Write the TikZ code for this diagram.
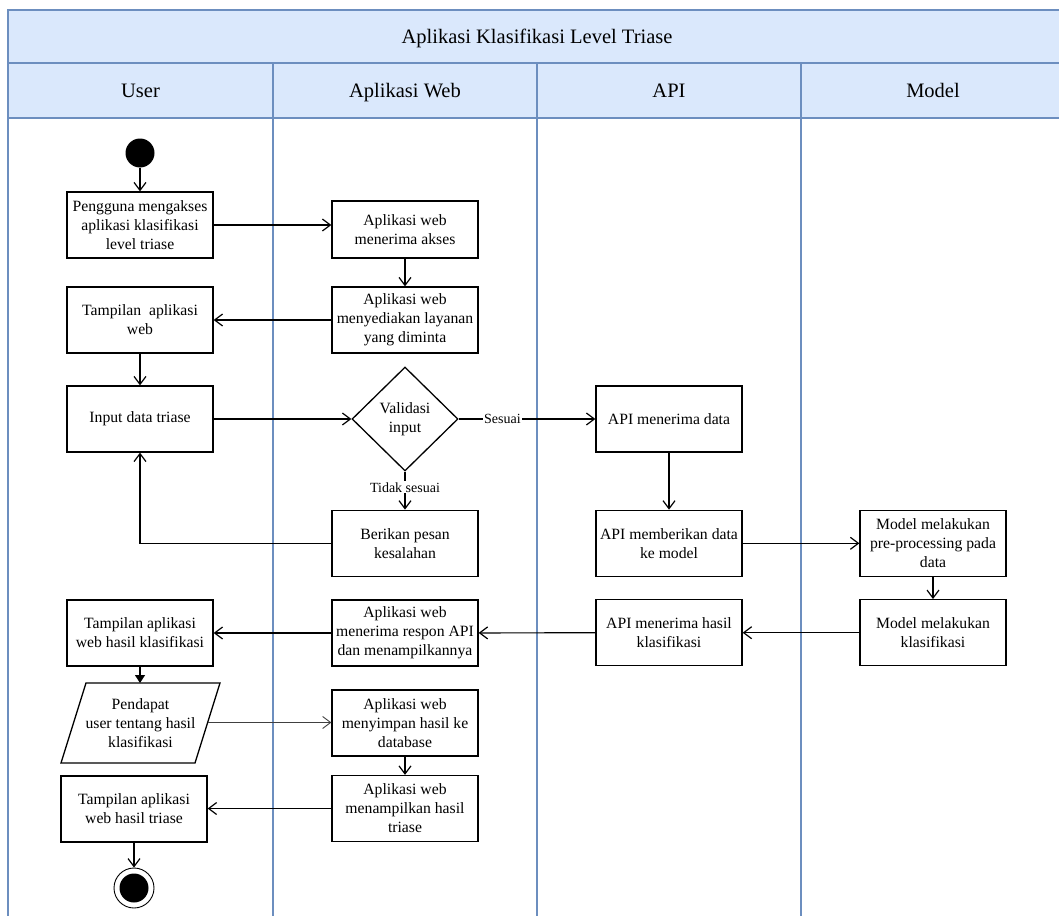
\documentclass[tikz,border=0pt]{standalone}
\usepackage{fontspec}
\setmainfont{Liberation Serif}
\usetikzlibrary{arrows.meta,shapes.geometric,calc}
\definecolor{hdrfill}{HTML}{DAE8FC}
\definecolor{hdrline}{HTML}{6C8EBF}
\begin{document}
\begin{tikzpicture}[x=1pt,y=-1pt,
  lane/.style={draw=hdrline, line width=1.3pt},
  hdr/.style={draw=hdrline, fill=hdrfill, line width=1.3pt},
  hdrtext/.style={font=\fontsize{20.5}{24}\selectfont, inner sep=0pt, text height=14pt, text depth=4.5pt},
  box/.style={draw=black, line width=1.3pt, minimum width=146pt, minimum height=66pt,
    align=center, inner sep=1pt, font=\fontsize{15.7}{19}\selectfont},
  boxtext/.style={align=center, inner sep=1pt, font=\fontsize{15.7}{19}\selectfont},
  dec/.style={diamond, draw=black, line width=1.3pt, minimum width=106pt, minimum height=104pt,
    inner sep=0pt, align=center, font=\fontsize{15.7}{19}\selectfont},
  arr/.style={line width=1.2pt, -{Straight Barb[length=8pt,width=12pt]}},
  thinarr/.style={line width=0.9pt, draw=black!75, -{Straight Barb[length=8pt,width=12pt]}},
  fillarr/.style={line width=1.2pt, -{Triangle[length=8pt,width=10pt]}},
  lbl/.style={fill=white, inner sep=1pt, font=\fontsize{14}{16}\selectfont}
]
\clip (0,0) rectangle (1059,915);
\fill[white] (0,0) rectangle (1059,915);

% pool and lanes
\draw[hdr] (8,10) rectangle (1066,63);
\node[hdrtext] (title) at (537,38.5) {Aplikasi Klasifikasi Level Triase};
\draw[hdr] (8,63) rectangle (273,118);
\draw[hdr] (273,63) rectangle (537,118);
\draw[hdr] (537,63) rectangle (801,118);
\draw[hdr] (801,63) rectangle (1066,118);
\node[hdrtext] (lu) at (140.5,93) {User};
\node[hdrtext] (lw) at (405,93) {Aplikasi Web};
\node[hdrtext] (la) at (669,93) {API};
\node[hdrtext] (lm) at (933,93) {Model};
\draw[lane] (8,118) rectangle (273,940);
\draw[lane] (273,118) rectangle (537,940);
\draw[lane] (537,118) rectangle (801,940);
\draw[lane] (801,118) rectangle (1066,940);

% start
\node[circle, fill=black, minimum size=29pt, inner sep=0pt] (start) at (140,153) {};

% user lane
\node[box] (u1) at (140,225) {Pengguna mengakses\\aplikasi klasifikasi\\level triase};
\node[box] (u2) at (140,320) {Tampilan\ \ aplikasi\\web};
\node[box] (u3) at (140,419) {Input data triase};
\node[box] (u4) at (140,633) {Tampilan aplikasi\\web hasil klasifikasi};
\draw[line width=1.3pt] (61,763) -- (195,763) -- (220,683) -- (86,683) -- cycle;
\node[boxtext] (u5) at (140.5,723) {Pendapat\\user tentang hasil\\klasifikasi};
\coordinate (u5top) at (140,683);
\coordinate (u5right) at (207.5,722.5);
\node[box] (u6) at (134,809) {Tampilan aplikasi\\web hasil triase};
\node[circle, draw=black, line width=0.9pt, minimum size=40pt, inner sep=0pt] (end) at (134,888) {};
\node[circle, fill=black, minimum size=29pt, inner sep=0pt] (endin) at (134,888) {};

% web lane
\node[box, minimum height=57pt] (w1) at (405,229.5) {Aplikasi web\\menerima akses};
\node[box] (w2) at (405,320) {Aplikasi web\\menyediakan layanan\\yang diminta};
\node[dec] (val) at (405,419) {Validasi\\input};
\node[box] (w3) at (405,543.3) {Berikan pesan\\kesalahan};
\node[box] (w4) at (405,633) {Aplikasi web\\menerima respon API\\dan menampilkannya};
\node[box] (w5) at (405,723) {Aplikasi web\\menyimpan hasil ke\\database};
\node[box] (w6) at (405,808.5) {Aplikasi web\\menampilkan hasil\\triase};

% API lane
\node[box] (a1) at (669,419) {API menerima data};
\node[box] (a2) at (669,543.3) {API memberikan data\\ke model};
\node[box] (a3) at (669,632.7) {API menerima hasil\\klasifikasi};

% Model lane
\node[box] (m1) at (933,543.3) {Model melakukan\\pre-processing pada\\data};
\node[box] (m2) at (933,632.7) {Model melakukan\\klasifikasi};

% connectors
\draw[arr] (start) -- (u1);
\draw[arr] (u1.east) -- (u1.east -| w1.west);
\draw[arr] (w1) -- (w2);
\draw[arr] (w2) -- (u2);
\draw[arr] (u2) -- (u3);
\draw[arr] (u3) -- (val);
\draw[arr] (val.east) -- node[lbl, pos=0.32] {Sesuai} (a1.west);
\draw[arr] (val.south) -- node[lbl, pos=0.41] {Tidak sesuai} (w3.north);
\draw[arr] (w3.west) -| (u3.south);
\draw[arr] (a1) -- (a2);
\draw[arr] (a2) -- (m1);
\draw[arr] (m1) -- (m2);
\draw[arr] (m2) -- (a3);
\draw[arr] (a3) -- (w4);
\draw[arr] (w4) -- (u4);
\draw[fillarr] (u4.south) -- (u5top);
\draw[thinarr] (u5right) -- (u5right -| w5.west);
\draw[arr] (w5) -- (w6);
\draw[arr] (w6.west) -- (w6.west -| u6.east);
\draw[arr] (u6) -- (end);
\end{tikzpicture}
\end{document}
